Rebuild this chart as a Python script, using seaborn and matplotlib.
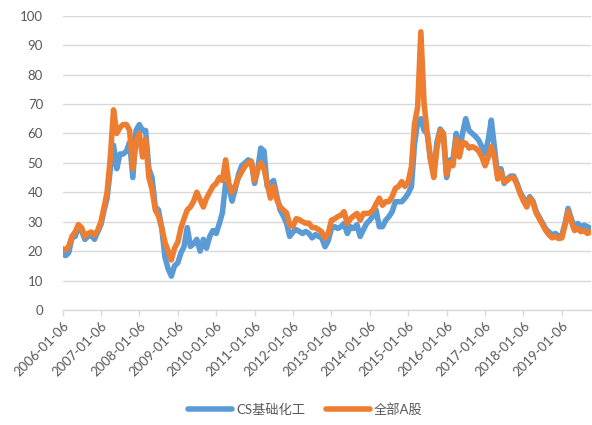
import pandas as pd
import matplotlib.pyplot as plt
import seaborn as sns

# monthly readings, Jan 2006 .. Oct 2019
cs_chem = [
    19, 18.5, 19.5, 24.5, 25, 28, 27, 24, 25, 25.5, 24, 26.5,
    29, 34, 38, 48, 56, 48, 53, 53, 54, 57, 45, 61,
    63, 61, 61, 48, 45, 35, 34, 28, 18, 14, 11.5, 15,
    16, 19.5, 21.5, 28, 21.6, 22.5, 24, 20, 24, 21, 25, 27,
    26, 29.5, 33, 43, 42, 37, 41, 46, 49, 50, 51, 50.5,
    43, 48, 55, 54, 42, 43, 44, 38.6, 34, 32, 29.5, 25,
    26.5, 27.3, 26.7, 26, 26.7, 26, 24.5, 25.6, 25, 24.5, 21.5, 23.5,
    27.7, 28.3, 27.7, 28.3, 29.4, 26, 28.3, 27.7, 29, 25, 27.2, 29.4,
    30.5, 32, 34, 28.3, 28.3, 30.5, 31.7, 33.4, 36.8, 36.8, 36.8, 38,
    39.6, 42, 56, 64, 65, 61, 60, 51, 47, 57, 61.5, 60,
    45, 51, 51, 60, 54, 60, 65, 61, 60, 59, 57.7, 55.5,
    53, 58, 64.5, 55, 45.5, 48, 43, 44.5, 45.5, 45.5, 43, 40,
    38, 36, 38.5, 37, 33.5, 31.5, 29.5, 27.5, 26.5, 25.5, 26, 25,
    25.5, 29.5, 34.5, 31, 28, 29.4, 28.3, 28.8, 28.3, 27.7,
]
all_a = [
    20.8, 20.5, 21.6, 25, 26.5, 29, 28, 25, 26, 26.5, 25.5, 27,
    30, 35, 40, 52, 68, 60, 62, 63, 63, 61, 48, 57,
    60, 52, 58, 45, 41, 34, 32, 28, 23, 20, 17, 21,
    23, 28, 31, 34, 35, 37, 40, 37.5, 35, 38, 40, 42,
    43, 45, 44, 51, 43, 40, 42, 45, 47, 48.8, 50, 50.5,
    44, 48, 50, 48, 43, 38, 42, 37.5, 35, 34, 33, 29,
    28.4, 31, 30.7, 30, 29.5, 29.5, 28, 28, 27.3, 26.5, 24.5, 26,
    30.5, 31, 31.7, 32.2, 33.4, 29.4, 31, 32, 32.8, 30.5, 32.8, 32.8,
    33, 34, 36, 38, 35.6, 36.8, 36.8, 38.5, 41.3, 42, 43.6, 42,
    43.6, 48.7, 63, 69, 94.5, 70, 60, 51, 45, 55, 61, 60,
    46, 50, 49, 58, 52, 57, 56.6, 55, 55.5, 55, 54, 52,
    49, 52, 55.5, 52, 44.5, 47, 43.5, 44, 45, 45, 42.5, 39.5,
    37, 35, 38, 36.5, 33, 31, 29, 27, 25.5, 24.5, 25, 24.3,
    24.5, 29, 33.5, 30, 27, 27.7, 26.6, 27, 26, 26.6,
]
series_names = ["CS基础化工", "全部A股"]
tick_labels = [f"{y}-01-06" for y in range(2006, 2020)]

dates = pd.date_range("2006-01-06", periods=len(cs_chem), freq=pd.DateOffset(months=1))
df = pd.DataFrame({"date": list(dates) * 2,
                   "value": cs_chem + all_a,
                   "series": [series_names[0]] * len(cs_chem) + [series_names[1]] * len(all_a)})

sns.set_theme(style="white")
plt.rcParams["font.family"] = ["Lato", "Noto Sans CJK SC", "DejaVu Sans"]
grey = "#595959"

fig = plt.figure(figsize=(5.92, 4.25), dpi=100)
ax = fig.add_axes([0.1056, 0.2706, 0.892, 0.6925])
sns.lineplot(data=df, x="date", y="value", hue="series",
             palette=["#5B9BD5", "#ED7D31"], linewidth=4.0,
             solid_joinstyle="round", solid_capstyle="round", ax=ax)

ax.set_ylim(0, 100)
ax.set_yticks(range(0, 101, 10))
ax.set_xlim(dates[0], dates[-1])
ax.set_xticks(pd.to_datetime(tick_labels))
ax.set_xticklabels(tick_labels, rotation=45, ha="right", rotation_mode="anchor")
ax.set_xlabel("")
ax.set_ylabel("")
ax.grid(axis="y", color="#D9D9D9", linewidth=1)
ax.set_axisbelow(True)
for s in ["top", "right", "left"]:
    ax.spines[s].set_visible(False)
ax.spines["bottom"].set_color("#D9D9D9")
ax.spines["bottom"].set_linewidth(1)
ax.tick_params(axis="y", length=0, pad=14, labelsize=9.5, labelcolor=grey)
ax.tick_params(axis="x", length=4, width=1, color="#D9D9D9", direction="out",
               pad=3, labelsize=9.5, labelcolor=grey)
ax.xaxis.set_tick_params(bottom=True)

sns.move_legend(ax, "lower center", bbox_to_anchor=(0.46, -0.40), ncol=2, frameon=False,
                title=None, fontsize=9.5, handlelength=3.3, columnspacing=1.6,
                handletextpad=0.3)
for t in ax.get_legend().get_texts():
    t.set_color(grey)
for h in ax.get_legend().legend_handles:
    h.set_linewidth(4)

fig.savefig("out.png", dpi=100)
